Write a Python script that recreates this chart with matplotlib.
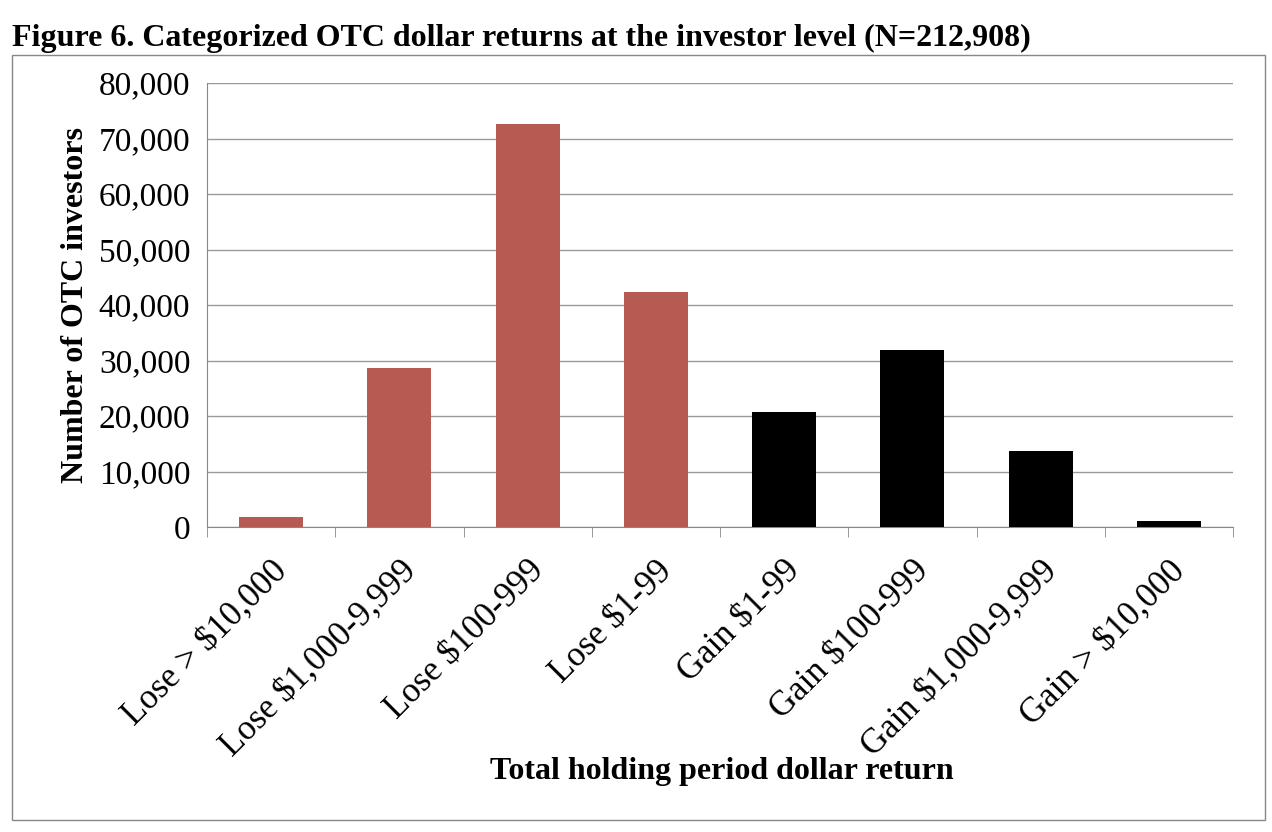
import matplotlib.pyplot as plt
import matplotlib.patches as mpatches
import numpy as np

categories = ['Lose > $10,000', 'Lose $1,000-9,999', 'Lose $100-999', 'Lose $1-99',
              'Gain $1-99', 'Gain $100-999', 'Gain $1,000-9,999', 'Gain > $10,000']
investors = [1800, 28700, 72600, 42400, 20700, 31900, 13700, 1000]
bar_colors = ['#B65A52'] * 4 + ['#000000'] * 4

plt.rcParams['font.family'] = 'Liberation Serif'

fig = plt.figure(figsize=(12.72, 8.32), dpi=100)
fig.patches.append(mpatches.Rectangle((12 / 1272, 12 / 832), 1253 / 1272, 765 / 832,
                                      transform=fig.transFigure, fill=False,
                                      edgecolor='#888888', linewidth=1))
fig.text(12 / 1272, 1 - 38 / 832, 'Figure 6. Categorized OTC dollar returns at the investor level (N=212,908)',
         fontsize=23, fontweight='bold', va='center', ha='left')

ax = fig.add_axes([207 / 1272, 1 - 527 / 832, 1026 / 1272, 444 / 832])
x = np.arange(len(categories))
ax.bar(x, investors, width=0.5, color=bar_colors, zorder=3)
ax.set_xlim(-0.5, len(categories) - 0.5)
ax.set_ylim(0, 80000)
ax.set_yticks(np.arange(0, 80001, 10000))
ax.set_yticklabels(['{:,}'.format(v) for v in range(0, 80001, 10000)], fontsize=24)
ax.yaxis.grid(True, color='#999999', linewidth=1, zorder=0)
ax.tick_params(axis='y', length=0, pad=12)

ax.set_xticks(x)
ax.set_xticklabels(categories, rotation=45, ha='right', rotation_mode='anchor', fontsize=25)
ax.set_xticks(np.arange(-0.5, len(categories), 1), minor=True)
ax.tick_params(axis='x', which='major', length=0, pad=20)
ax.tick_params(axis='x', which='minor', length=7, direction='out', color='#888888')

for s in ['top', 'right']:
    ax.spines[s].set_visible(False)
ax.spines['left'].set_color('#888888')
ax.spines['bottom'].set_color('#888888')

ax.set_ylabel('Number of OTC investors', fontsize=23, fontweight='bold', labelpad=6)
fig.text(722 / 1272, 1 - 772 / 832, 'Total holding period dollar return',
         fontsize=23, fontweight='bold', ha='center', va='center')

fig.savefig('out.png', dpi=100)
